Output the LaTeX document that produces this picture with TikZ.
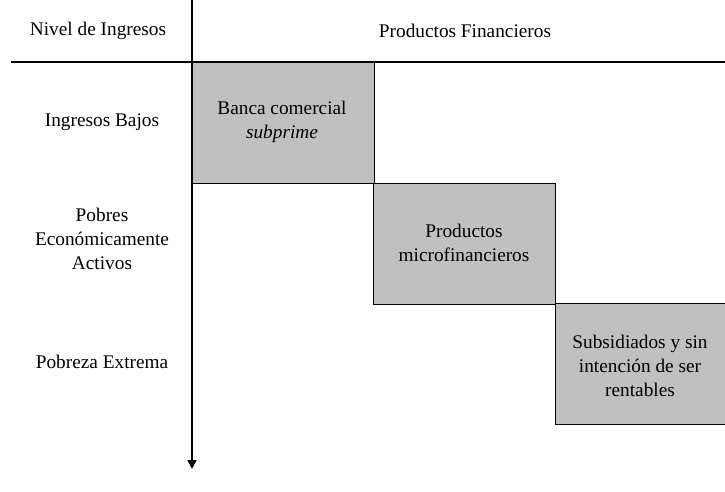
\documentclass[tikz,border=0pt]{standalone}
\usepackage{fontspec}
\setmainfont{Liberation Serif}
\usetikzlibrary{arrows.meta}
\definecolor{boxgray}{HTML}{C0C0C0}
\tikzset{
  lbl/.style={align=center, font=\fontsize{19.3}{24}\selectfont, inner sep=0pt},
  cellbox/.style={draw=black, line width=1.3pt, fill=boxgray, minimum width=182pt, minimum height=121pt, inner sep=0pt, anchor=north west},
  axis/.style={line width=1.6pt},
}
\begin{document}
\begin{tikzpicture}[x=1pt,y=-1pt]
\useasboundingbox (0,0) rectangle (725,492);
\clip (0,0) rectangle (725,492);
% boxes
\node[cellbox] (b1) at (192,62) {};
\node[cellbox] (b2) at (373,183) {};
\node[cellbox, minimum width=200pt] (b3) at (555,303) {};
% axes
\coordinate (hl) at (11,62);
\coordinate (hr) at (725,62);
\coordinate (vt) at (192,0);
\coordinate (vb) at (192,469);
\draw[axis] (hl) -- (hr);
\draw[axis, -{Triangle[length=9pt,width=9pt]}] (vt) -- (vb);
% headers
\node[lbl] (h1) at (98,31) {Nivel de Ingresos};
\node[lbl] (h2) at (465,31) {Productos Financieros};
% row labels
\node[lbl] (r1) at (102,122) {Ingresos Bajos};
\node[lbl] (r2) at (102,239) {Pobres\\Económicamente\\Activos};
\node[lbl] (r3) at (102,362) {Pobreza Extrema};
% box texts
\node[lbl] (t1) at (282,122) {Banca comercial\\\textit{subprime}};
\node[lbl] (t2) at (464,243) {Productos\\microfinancieros};
\node[lbl] (t3) at (640,366) {Subsidiados y sin\\intención de ser\\rentables};
\end{tikzpicture}
\end{document}
